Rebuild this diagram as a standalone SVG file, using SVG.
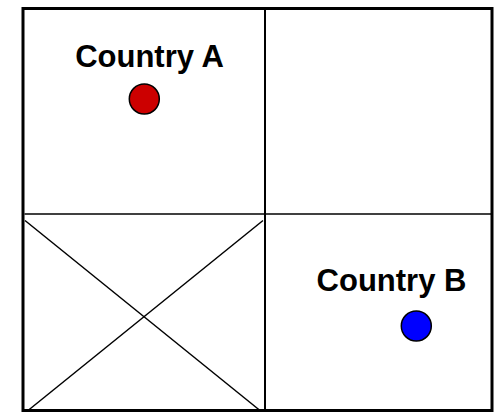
<svg xmlns="http://www.w3.org/2000/svg" width="495" height="413" viewBox="0 0 495 413">
<style>
.lbl{font-family:"Liberation Sans",Arial,sans-serif;font-weight:bold;font-size:31px;fill:#000;text-anchor:middle}
.pt{stroke:#000;stroke-width:1.5}
.ln{stroke:#000;fill:none}
</style>
<rect x="0" y="0" width="495" height="413" fill="#fff"/>
<g id="connectors">
<line class="ln" x1="24.5" y1="214" x2="491" y2="214" stroke-width="1.5"/>
<line class="ln" x1="265" y1="9" x2="265" y2="410" stroke-width="2"/>
<line class="ln" x1="25" y1="220.5" x2="260" y2="410.5" stroke-width="1.5"/>
<line class="ln" x1="263" y1="220.5" x2="28" y2="410.5" stroke-width="1.5"/>
</g>
<g id="frame">
<rect class="ln" x="23" y="8.5" width="469" height="402" stroke-width="3"/>
</g>
<g id="countryA">
<text class="lbl" x="149.5" y="67">Country A</text>
<circle class="pt" cx="144.3" cy="99" r="15" fill="#cc0000"/>
</g>
<g id="countryB">
<text class="lbl" x="391.5" y="290.5">Country B</text>
<circle class="pt" cx="416.3" cy="326" r="15" fill="#0000ff"/>
</g>
</svg>
